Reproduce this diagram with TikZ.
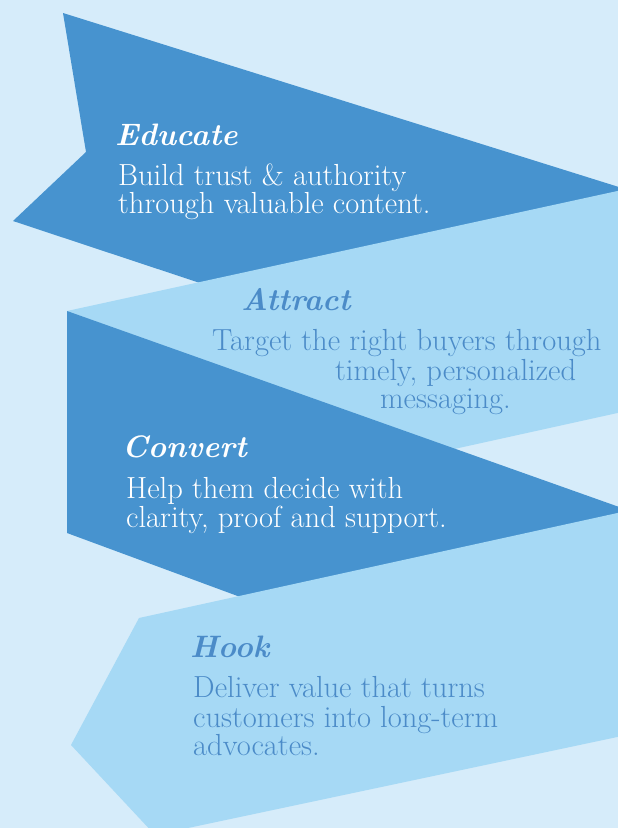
\documentclass[tikz,border=0pt]{standalone}
\usepackage{xcolor}
\definecolor{paleblue}{HTML}{D6ECFA}
\definecolor{deepblue}{HTML}{4793CF}
\definecolor{skyblue}{HTML}{A6D9F5}
\definecolor{inkblue}{HTML}{4B8BC8}
\begin{document}
\begin{tikzpicture}[x=1pt,y=-1pt,
  title/.style={anchor=base west,inner sep=0pt,font=\fontsize{31}{35}\selectfont\bfseries\itshape},
  body/.style={anchor=base west,inner sep=0pt,font=\fontsize{30.5}{33}\selectfont},
  ondark/.style={text=white},
  onlight/.style={text=inkblue}]
\useasboundingbox (0,0) rectangle (618,828);
\fill[paleblue] (0,0) rectangle (618,828);
\begin{scope}
\clip (0,0) rectangle (618,828);
% arrow bands, back to front
\fill[deepblue] (63,13) -- (622,188) -- (622,196) -- (203,284) -- (13,221) -- (86,152) -- cycle;
\fill[skyblue] (67,311) -- (622,190) -- (622,412) -- (300,483) -- cycle;
\fill[deepblue] (67,311) -- (622,508) -- (622,516) -- (243,598) -- (67,533) -- cycle;
\fill[skyblue] (139,618) -- (622,512) -- (622,736) -- (155,835) -- (71,745) -- cycle;
\end{scope}
% Educate
\node[title,ondark] (edT) at (115,145) {Educate};
\node[body,ondark] (edA) at (118,185) {Build trust \& authority};
\node[body,ondark] (edB) at (118,213) {through valuable content.};
% Attract
\node[title,onlight] (atT) at (241,310) {Attract};
\node[body,onlight] (atA) at (212,350) {Target the right buyers through};
\node[body,onlight] (atB) at (335,380) {timely, personalized};
\node[body,onlight] (atC) at (380,408) {messaging.};
% Convert
\node[title,ondark] (cvT) at (122,457) {Convert};
\node[body,ondark] (cvA) at (126,498) {Help them decide with};
\node[body,ondark] (cvB) at (126,527) {clarity, proof and support.};
% Hook
\node[title,onlight] (hkT) at (190,657) {Hook};
\node[body,onlight] (hkA) at (193,697) {Deliver value that turns};
\node[body,onlight] (hkB) at (193,727) {customers into long-term};
\node[body,onlight] (hkC) at (193,755) {advocates.};
\end{tikzpicture}
\end{document}
